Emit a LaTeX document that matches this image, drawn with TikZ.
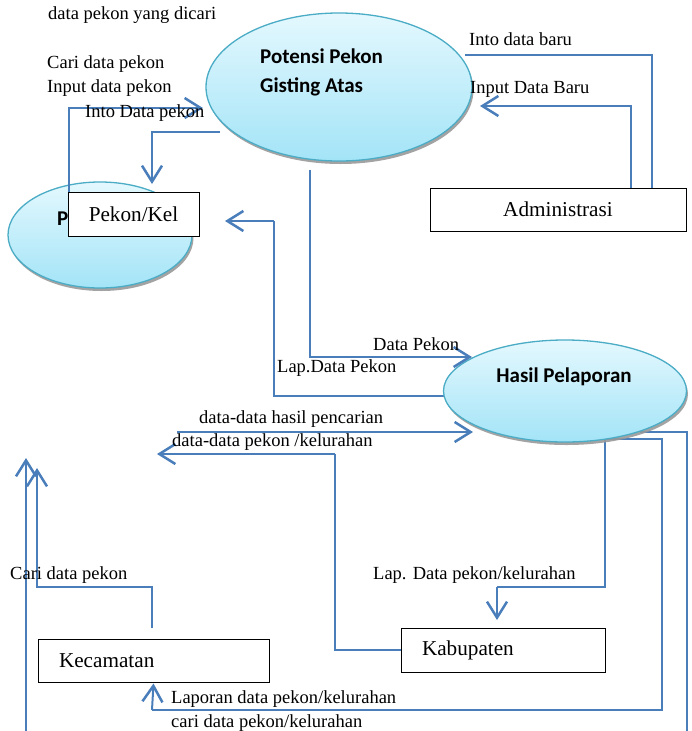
\documentclass[tikz,border=0pt]{standalone}
\usepackage{fontspec}
\setmainfont{Liberation Serif}
\newfontfamily\calib{Carlito}
\usetikzlibrary{arrows.meta,shapes.geometric,shadows,backgrounds}

\definecolor{lineblue}{HTML}{4A7EBB}
\definecolor{ellborder}{HTML}{4BACC6}
\definecolor{elltop}{HTML}{E4F8FE}
\definecolor{ellbot}{HTML}{A3E4F7}

\tikzset{
 proc/.style={ellipse, draw=ellborder, line width=1.3pt, top color=elltop, bottom color=ellbot,
   drop shadow={shadow xshift=1.5pt, shadow yshift=-3pt, fill=black!40, opacity=0.9}, inner sep=0pt},
 proctext/.style={font=\calib\bfseries\fontsize{21}{29}\selectfont, inner sep=0pt, align=left},
 ent/.style={draw=black, line width=1pt, fill=white, rectangle, inner sep=0pt, font=\fontsize{21.2}{25}\selectfont},
 flow/.style={draw=lineblue, line width=2pt},
 thinflow/.style={draw=lineblue, line width=1.5pt},
 tip/.style={-{Straight Barb[length=16pt,width=20pt,line width=2.5pt]}},
 lbl/.style={font=\fontsize{18.5}{22}\selectfont, inner sep=0pt, anchor=west, text=black},
}

\begin{document}
\begin{tikzpicture}[x=1pt,y=-1pt]
\useasboundingbox (0,0) rectangle (691,731);

% processes
\node[proc, minimum width=266, minimum height=148] (e1) at (339,87) {};
\node[proctext, anchor=west] (e1t) at (260,72) {Potensi Pekon\\Gisting Atas};
\node[proc, minimum width=184, minimum height=106] (e2) at (100,235) {};
\node[proctext, anchor=west] (e2t) at (57,219) {P};
\node[proc, minimum width=243, minimum height=102] (e3) at (565,391) {};
\node[proctext, anchor=center] (e3t) at (564,377) {Hasil Pelaporan};

% entities
\node[ent, minimum width=131, minimum height=44] (pk) at (133.5,214) {Pekon/Kel};
\node[ent, minimum width=256, minimum height=43] (adm) at (558,209.5) {Administrasi};
\node[ent, minimum width=231, minimum height=43, inner xsep=21pt, text width=189pt, align=left] (kec) at (153.5,660.5) {Kecamatan};
\node[ent, minimum width=204, minimum height=44, inner xsep=21pt, text width=162pt, align=left] (kab) at (503,650) {Kabupaten};

% free ends
\coordinate (c1e) at (203,108);
\coordinate (c2s) at (220,132);
\coordinate (c2e) at (152,184);
\coordinate (c3s) at (465,55);
\coordinate (c4e) at (480,106);
\coordinate (c5s) at (310,170);
\coordinate (c5e) at (472,357);
\coordinate (c6s) at (450,396);
\coordinate (c6e) at (225,221);
\coordinate (c7s) at (177,432);
\coordinate (c7e) at (473,432);
\coordinate (c8e) at (157,454);
\coordinate (c9s) at (605,430);
\coordinate (c9e) at (497,620);
\coordinate (c10s) at (605,439);
\coordinate (c11s) at (640,432);
\coordinate (c11e) at (687,731);
\coordinate (c12s) at (26,731);
\coordinate (c12e) at (26,458);
\coordinate (c13s) at (152,628);
\coordinate (c13e) at (37,468);

\begin{scope}[on background layer]
\fill[white] (0,0) rectangle (691,731);
\draw[flow] (c6s) -- (274,396) -- (274,221);
\draw[flow] (c9s) -- (605,587) -- (497,587);
\draw[thinflow] (c10s) -- (662,439) -- (662,710) -- (152,710);
\draw[thinflow] (c11s) -| (c11e);
\end{scope}

\draw[flow,tip] ([xshift=1pt]pk.north west) |- (c1e);
\draw[flow,tip] (c2s) -| (c2e);
\draw[thinflow] (c3s) -| (adm.north -| 652,0);
\draw[flow,tip] (adm.north -| 631,0) |- (c4e);
\draw[flow,tip] (c5s) |- (c5e);
\draw[flow,tip] (274,221) -- (c6e);
\draw[flow,tip] (c7s) -- (c7e);
\draw[flow] (kab.west) -| (335,454);
\draw[flow,tip] (335,454) -- (c8e);
\draw[flow,tip] (497,587) -- (c9e);
\draw[flow,tip] (152,710) -- ([yshift=-1pt]kec.south);
\draw[flow,tip] (c12s) -- (c12e);
\draw[flow,tip] (c13s) |- (37,587) -- (c13e);

% labels
\node[lbl] at (48,15) {data pekon yang dicari};
\node[lbl] at (47,64) {Cari data pekon};
\node[lbl] at (47,88) {Input data pekon};
\node[lbl] at (85,113) {Into Data pekon};
\node[lbl] at (469,39) {Into data baru};
\node[lbl] at (470,89) {Input Data Baru};
\node[lbl] at (373,344) {Data Pekon};
\node[lbl] at (277,368) {Lap.Data Pekon};
\node[lbl] at (199,419) {data-data hasil pencarian};
\node[lbl] at (172,442) {data-data pekon /kelurahan};
\node[lbl] at (10,575) {Cari data pekon};
\node[lbl] at (373,575) {Lap. Data pekon/kelurahan};
\node[lbl] at (171,699) {Laporan data pekon/kelurahan};
\node[lbl] at (171,723) {cari data pekon/kelurahan};
\end{tikzpicture}
\end{document}
